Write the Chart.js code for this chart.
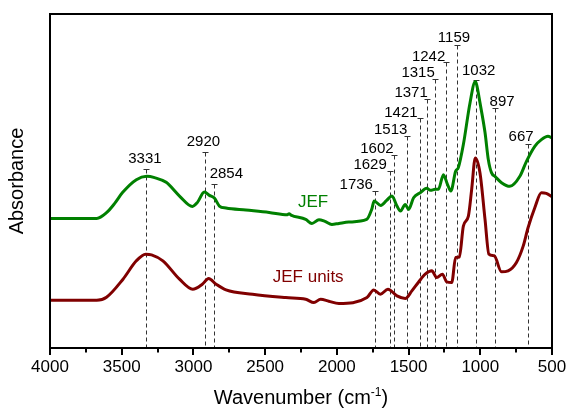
<!DOCTYPE html>
<html>
<head>
<meta charset="utf-8">
<script src="https://cdn.jsdelivr.net/npm/chart.js@4.4.0/dist/chart.umd.min.js"></script>
<style>
    html, body { margin: 0; padding: 0; background: #fff; }
</style>
</head>
<body>
<canvas id="ftirChart" width="570" height="409"></canvas>
<script>
// Espectro JEF (número de onda em cm-1, absorbância em unidades arbitrárias)
const jefWave = [4000, 3674, 3606, 3549, 3493, 3398, 3326, 3271, 3190, 3097, 3007, 2972, 2924, 2889, 2854,
    2819, 2773, 2634, 2472, 2345, 2333, 2320, 2217, 2174, 2125, 2083, 2035, 1986, 1917, 1792,
    1757, 1740, 1694, 1653, 1616, 1583, 1556, 1523, 1500, 1465, 1419, 1373, 1347, 1315, 1292,
    1257, 1229, 1205, 1172, 1153, 1118, 1072, 1035, 1025, 1002, 967, 944, 922, 896, 852,
    794, 724, 678, 620, 574, 528, 500];
const jefAbs = [38.8, 38.8, 40.5, 43.3, 46.6, 50.4, 51.4, 51.0, 49.6, 45.5, 42.4, 43.6, 46.7, 45.7, 44.9,
    42.5, 41.9, 41.3, 40.6, 39.9, 40.2, 39.8, 38.5, 37.3, 38.4, 37.9, 37.0, 37.3, 37.7, 38.5,
    41.5, 44.0, 42.7, 44.2, 45.5, 42.7, 41.0, 43.0, 41.5, 45.0, 46.5, 47.8, 47.2, 47.5, 47.5,
    51.9, 49.0, 47.0, 52.9, 54.0, 60.9, 73.3, 79.8, 78.8, 73.4, 64.5, 56.4, 52.5, 51.3, 49.5,
    48.4, 51.4, 55.9, 60.4, 62.4, 63.4, 62.9];

// Espectro JEF units
const unitsWave = [4000, 3674, 3606, 3491, 3398, 3333, 3292, 3213, 3097, 3005, 2938, 2894, 2842, 2773, 2588,
    2356, 2217, 2160, 2113, 2056, 1986, 1790, 1743, 1697, 1644, 1581, 1523, 1477, 1431, 1384,
    1338, 1304, 1264, 1234, 1199, 1172, 1146, 1118, 1083, 1060, 1035, 1002, 967, 940, 903,
    852, 806, 748, 701, 667, 620, 574, 540, 500];
const unitsAbs = [14.3, 14.3, 15.2, 20.6, 26.1, 28.1, 27.9, 26.1, 20.6, 17.6, 19.1, 20.8, 19.1, 17.4, 16.1,
    15.1, 14.6, 13.6, 14.6, 14.0, 13.3, 15.1, 17.4, 16.1, 17.6, 15.6, 14.8, 17.1, 19.7, 22.1,
    23.1, 21.1, 22.1, 19.8, 19.6, 27.1, 27.2, 36.5, 39.5, 47.5, 56.9, 52.4, 38.5, 28.1, 27.6,
    22.8, 23.1, 25.6, 30.5, 36.0, 42.0, 46.5, 46.3, 45.3];

// Picos marcados e altura do marcador de cada um
const peakWave = [3331, 2920, 2854, 1736, 1629, 1602, 1513, 1421, 1371, 1315, 1242, 1159, 1032, 897, 667];
const peakTop = [53.7, 58.7, 49.2, 47.0, 52.9, 57.9, 63.4, 68.9, 74.5, 80.5, 85.5, 90.7, 80.3, 71.9, 61.2];

// Eixo x: rótulos a cada 500, marcas menores a cada 250
const xLabels = [4000, 3500, 3000, 2500, 2000, 1500, 1000, 500];

const FONT = "'Liberation Sans', Arial, sans-serif";
const GREEN = '#008000';
const RED = '#800000';

// deslocamento do texto de cada pico (dx do centro, distância da base ao marcador)
const labelDx = [-1, -1.5, 12, -18.5, -20, -17, -16, -19, -16, -17, -17, -3.5, 3, 7, -7];
const labelGap = [6, 6, 6, 2, 2, 2, 2, 1, 2.5, 2.5, 1, 3.3, 5, 1.6, 2.3];

const toPoints = (xs, ys) => xs.map((x, i) => ({ x: x, y: ys[i] }));

const peakMarks = {
    id: 'peakMarks',
    beforeDatasetsDraw(chart) {
        const { ctx, chartArea, scales: { x, y } } = chart;
        ctx.save();
        ctx.strokeStyle = '#333';
        ctx.lineWidth = 1;
        peakWave.forEach((w, i) => {
            const px = Math.round(x.getPixelForValue(w)) + 0.5;
            const top = Math.round(y.getPixelForValue(peakTop[i])) + 0.5;
            ctx.setLineDash([4, 3]);
            ctx.beginPath();
            ctx.moveTo(px, top);
            ctx.lineTo(px, chartArea.bottom);
            ctx.stroke();
            ctx.setLineDash([]);
            ctx.beginPath();
            ctx.moveTo(px - 3, top);
            ctx.lineTo(px + 3, top);
            ctx.stroke();
        });
        ctx.restore();
    },
    afterDatasetsDraw(chart) {
        const { ctx, scales: { x, y } } = chart;
        ctx.save();
        ctx.fillStyle = '#000';
        ctx.font = '15px ' + FONT;
        ctx.textAlign = 'center';
        ctx.textBaseline = 'alphabetic';
        peakWave.forEach((w, i) => {
            const px = x.getPixelForValue(w) + labelDx[i];
            const py = y.getPixelForValue(peakTop[i]) - labelGap[i];
            ctx.fillText(String(w), px, py);
        });
        // nomes das séries
        ctx.font = '17px ' + FONT;
        ctx.fillStyle = GREEN;
        ctx.fillText('JEF', x.getPixelForValue(2166), y.getPixelForValue(42.1));
        ctx.fillStyle = RED;
        ctx.fillText('JEF units', x.getPixelForValue(2200), y.getPixelForValue(19.7));
        ctx.restore();
    },
    afterDraw(chart) {
        const { ctx, chartArea, scales: { x } } = chart;
        ctx.save();
        // moldura
        ctx.strokeStyle = '#000';
        ctx.lineWidth = 2;
        ctx.strokeRect(chartArea.left, chartArea.top, chartArea.right - chartArea.left, chartArea.bottom - chartArea.top);
        // marcas do eixo x (maiores nos rótulos, menores entre eles)
        x.ticks.forEach(t => {
            const px = Math.round(x.getPixelForValue(t.value));
            const len = xLabels.includes(t.value) ? 7 : 4.5;
            ctx.beginPath();
            ctx.moveTo(px, chartArea.bottom);
            ctx.lineTo(px, chartArea.bottom + len);
            ctx.stroke();
        });
        // título do eixo x com expoente
        const main = 'Wavenumber (cm';
        const sup = '-1';
        const close = ')';
        ctx.fillStyle = '#000';
        ctx.textBaseline = 'alphabetic';
        ctx.textAlign = 'left';
        ctx.font = '20px ' + FONT;
        const w1 = ctx.measureText(main).width;
        const w3 = ctx.measureText(close).width;
        ctx.font = '12px ' + FONT;
        const w2 = ctx.measureText(sup).width;
        let tx = 301 - (w1 + w2 + w3) / 2;
        ctx.font = '20px ' + FONT;
        ctx.fillText(main, tx, 404);
        tx += w1;
        ctx.font = '12px ' + FONT;
        ctx.fillText(sup, tx, 396);
        tx += w2;
        ctx.font = '20px ' + FONT;
        ctx.fillText(close, tx, 404);
        ctx.restore();
    }
};

const ctx = document.getElementById('ftirChart').getContext('2d');

const ftirChart = new Chart(ctx, {
    type: 'line',
    data: {
        datasets: [{
            label: 'JEF',
            data: toPoints(jefWave, jefAbs),
            borderColor: GREEN,
            borderWidth: 3,
            pointRadius: 0,
            cubicInterpolationMode: 'monotone',
            fill: false
        }, {
            label: 'JEF units',
            data: toPoints(unitsWave, unitsAbs),
            borderColor: RED,
            borderWidth: 3,
            pointRadius: 0,
            cubicInterpolationMode: 'monotone',
            fill: false
        }]
    },
    options: {
        responsive: false,
        animation: false,
        devicePixelRatio: 1,
        layout: { padding: { top: 14, right: 18, left: 0, bottom: 0 } },
        plugins: {
            legend: { display: false },
            tooltip: { enabled: false }
        },
        scales: {
            x: {
                type: 'linear',
                reverse: true,
                min: 500,
                max: 4000,
                ticks: {
                    stepSize: 250,
                    autoSkip: false,
                    maxRotation: 0,
                    padding: 9,
                    color: '#000',
                    font: { family: FONT, size: 17 },
                    callback: v => xLabels.includes(v) ? String(v) : ''
                },
                grid: { display: false, drawTicks: false },
                border: { display: true, color: '#000', width: 2 },
                afterFit: scale => {
                    scale.height = 61;
                    scale.paddingLeft = 0;
                    scale.paddingRight = 0;
                }
            },
            y: {
                min: 0,
                max: 100,
                ticks: { display: false },
                grid: { display: false, drawTicks: false },
                border: { display: true, color: '#000', width: 2 },
                title: {
                    display: true,
                    text: 'Absorbance',
                    color: '#000',
                    font: { family: FONT, size: 20 },
                    padding: { top: 5, bottom: 0 }
                },
                afterFit: scale => { scale.width = 50; }
            }
        }
    },
    plugins: [peakMarks]
});
</script>
</body>
</html>
